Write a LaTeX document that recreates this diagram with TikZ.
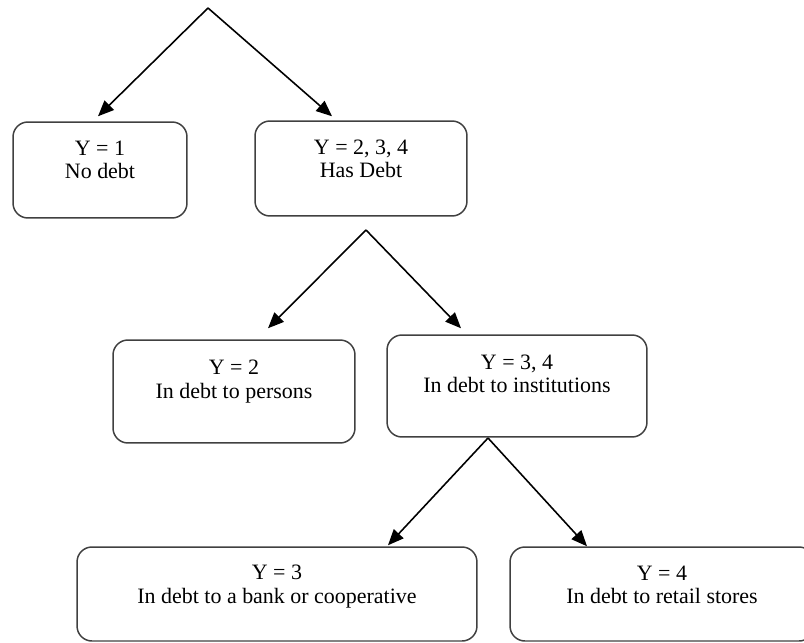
\documentclass[tikz,border=0pt]{standalone}
\usepackage{fontspec}
\setmainfont{Liberation Serif}
\usetikzlibrary{arrows.meta}

\tikzset{
  box/.style={draw=black!75, line width=0.85pt, rounded corners=8.5pt, inner sep=0pt},
  lbl/.style={align=center, font=\fontsize{12.5}{13.2}\selectfont},
  branch/.style={-{Triangle[length=9pt,width=7.5pt]}, line width=0.9pt}
}

\begin{document}
\begin{tikzpicture}[x=0.02cm, y=-0.02cm]
  \useasboundingbox (0,0) rectangle (804,642);
  \clip (0,0) rectangle (804,642);

  % split points of the tree
  \coordinate (split1) at (208,8);
  \coordinate (split2) at (366,230);
  \coordinate (split3) at (488,438);

  % first level
  \node[box, minimum width=3.48cm, minimum height=1.92cm] (nodebt) at (100,170) {};
  \node[lbl] (nodebt-text) at (100,160) {Y = 1\\No debt};
  \node[box, minimum width=4.24cm, minimum height=1.9cm] (hasdebt) at (361,168.5) {};
  \node[lbl] (hasdebt-text) at (361,159) {Y = 2, 3, 4\\Has Debt};

  % second level
  \node[box, minimum width=4.84cm, minimum height=2.06cm] (persons) at (234,391.5) {};
  \node[lbl] (persons-text) at (234,381.5) {Y = 2\\In debt to persons};
  \node[box, minimum width=5.2cm, minimum height=2.04cm] (instit) at (517,386) {};
  \node[lbl] (instit-text) at (517,373.5) {Y = 3, 4\\In debt to institutions};

  % third level
  \node[box, minimum width=8cm, minimum height=1.88cm] (bank) at (277,594) {};
  \node[lbl] (bank-text) at (277,586.5) {Y = 3\\In debt to a bank or cooperative};
  \node[box, minimum width=6.08cm, minimum height=1.88cm] (retail) at (662,594) {};
  \node[lbl] (retail-text) at (662,585) {Y = 4\\In debt to retail stores};

  % the arrows
  \draw[branch] (split1) -- ([xshift=-0.04cm, yshift=0.1cm]nodebt.north);
  \draw[branch] (split1) -- ([xshift=-0.58cm, yshift=0.08cm]hasdebt.north);
  \draw[branch] (split2) -- ([xshift=0.68cm, yshift=0.22cm]persons.north);
  \draw[branch] (split2) -- ([xshift=-1.12cm, yshift=0.12cm]instit.north);
  \draw[branch] (split3) -- ([xshift=2.22cm, yshift=0.02cm]bank.north);
  \draw[branch] (split3) -- ([xshift=-1.5cm]retail.north);
\end{tikzpicture}
\end{document}
